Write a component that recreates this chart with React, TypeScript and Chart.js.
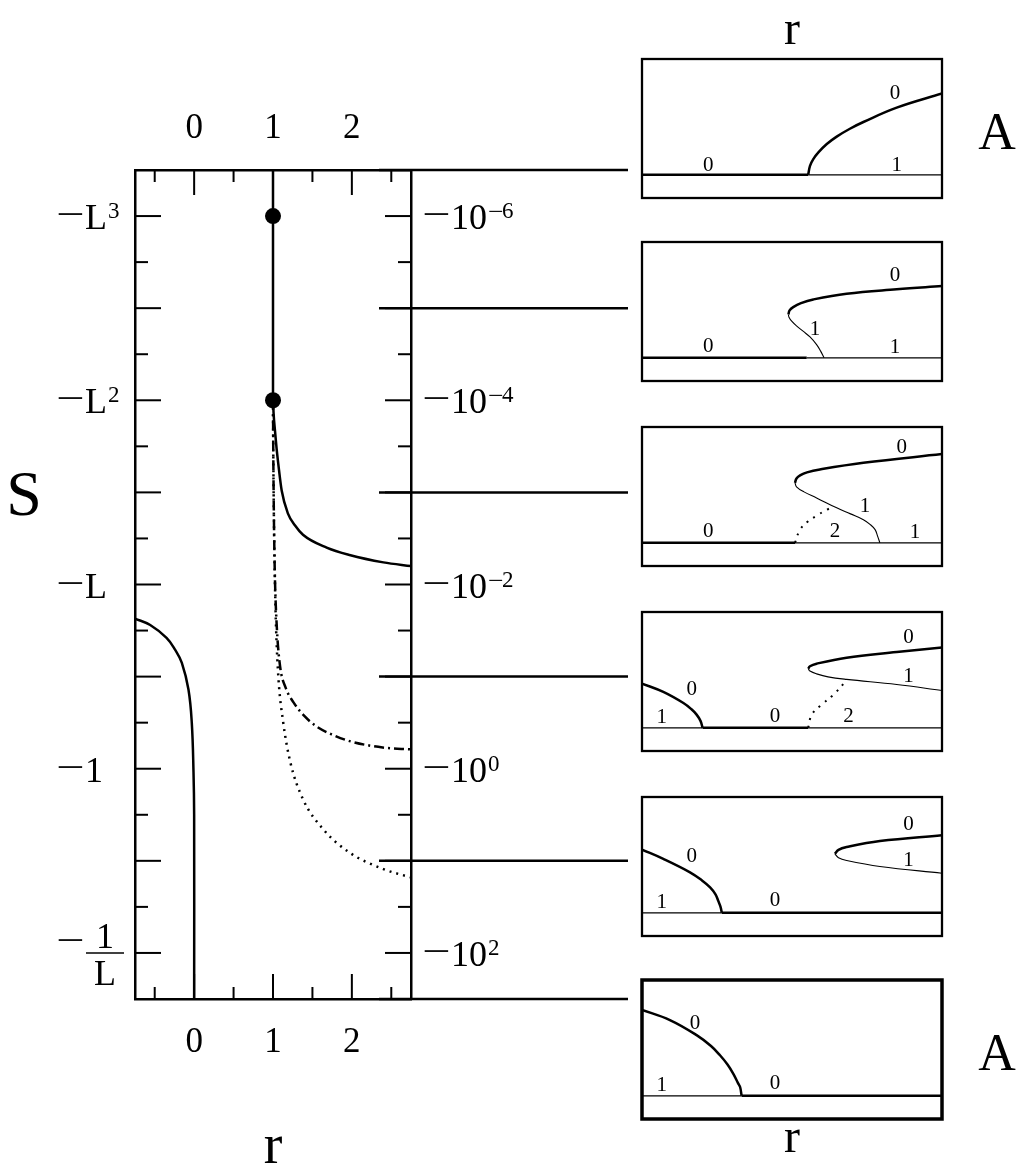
import { useEffect, useRef } from 'react';
import { Chart, registerables } from 'chart.js';

Chart.register(...registerables);

type Pt = [number, number];

const FONT = "'Liberation Serif', 'DejaVu Serif', serif";

// ---------------- main diagram data (r horizontally, log10|S| vertically) ----------------
const rTickValues = [0, 1, 2];
const rTickLabels = ['0', '1', '2'];
const sTickValues = [-6, -4, -2, 0, 2];
const sTickLabels = ['−L³', '−L²', '−L', '−1', '−1/L'];
const logTickLabels = ['−10⁻⁶', '−10⁻⁴', '−10⁻²', '−10⁰', '−10²'];
const rRange: Pt = [-0.75, 2.75];
const sRange: Pt = [-6.5, 2.5];
const tickStep = 0.5;
const connectorLevels = [-6.5, -5, -3, -1, 1, 2.5];

const criticalLine: Pt[] = [[1, -6.5], [1, -4]];
const criticalPoints: Pt[] = [[1, -6], [1, -4]];
const solidBranch: Pt[] = [
  [1, -4], [1.008, -3.85], [1.025, -3.67], [1.045, -3.48], [1.067, -3.31], [1.11, -3.02],
  [1.19, -2.77], [1.28, -2.64], [1.38, -2.54], [1.68, -2.4], [1.97, -2.32], [2.4, -2.24], [2.75, -2.2],
];
const dashDotBranch: Pt[] = [
  [1, -4], [1.003, -3.5], [1.008, -3], [1.015, -2.5], [1.025, -2.05], [1.05, -1.51], [1.09, -1.11],
  [1.16, -0.88], [1.26, -0.72], [1.4, -0.57], [1.55, -0.46], [1.75, -0.37], [1.97, -0.3], [2.39, -0.23], [2.75, -0.21],
];
const dottedBranch: Pt[] = [
  [1, -4], [1.003, -3.5], [1.008, -3], [1.015, -2.5], [1.025, -2.0], [1.04, -1.5], [1.07, -0.97],
  [1.13, -0.5], [1.22, -0.07], [1.38, 0.33], [1.64, 0.66], [1.97, 0.91], [2.4, 1.09], [2.75, 1.18],
];
const leftBranch: Pt[] = [
  [-0.75, -1.63], [-0.557, -1.56], [-0.35, -1.42], [-0.24, -1.29], [-0.156, -1.15], [-0.072, -0.86],
  [-0.03, -0.5], [-0.008, 0.04], [0, 0.5], [0, 2.5],
];

// ---------------- bifurcation panels (r horizontally, A vertically) ----------------
const panelR: Pt = [0, 10];
const panelA: Pt = [-1, 5];

const p1Thick: Pt[][] = [
  [[0, 0], [5.54, 0]],
  [[5.54, 0], [5.6, 0.39], [5.71, 0.68], [5.88, 0.97], [6.16, 1.33], [6.49, 1.65], [6.93, 1.99], [7.38, 2.28], [8.49, 2.9], [10, 3.51]],
];
const p1Thin: Pt[][] = [[[5.54, 0], [10, 0]]];
const p1Dotted: Pt[][] = [];
const p1Labels = ['0', '1', '0'];
const p1LabelAt: Pt[] = [[2.21, 0.47], [8.49, 0.47], [8.43, 3.58]];

const p2Thick: Pt[][] = [
  [[0, 0], [5.49, 0]],
  [[4.88, 1.87], [4.92, 2.05], [5.04, 2.19], [5.3, 2.36], [5.71, 2.52], [6.82, 2.77], [8.49, 2.96], [10, 3.1]],
];
const p2Thin: Pt[][] = [
  [[5.49, 0], [10, 0]],
  [[6.07, 0], [5.95, 0.3], [5.82, 0.57], [5.6, 0.9], [5.38, 1.14], [5.15, 1.38], [4.99, 1.58], [4.9, 1.75], [4.88, 1.87]],
];
const p2Dotted: Pt[][] = [];
const p2Labels = ['0', '1', '1', '0'];
const p2LabelAt: Pt[] = [[2.21, 0.57], [8.43, 0.5], [5.77, 1.29], [8.43, 3.61]];

const p3Thick: Pt[][] = [
  [[0, 0], [5.1, 0]],
  [[5.1, 2.59], [5.15, 2.78], [5.27, 2.91], [5.5, 3.04], [5.93, 3.17], [7.38, 3.46], [10, 3.83]],
];
const p3Thin: Pt[][] = [
  [[5.1, 0], [10, 0]],
  [[7.93, 0], [7.85, 0.3], [7.77, 0.57], [7.6, 0.8], [7.38, 1.0], [6.95, 1.25], [6.49, 1.51], [5.82, 1.94], [5.4, 2.2], [5.15, 2.42], [5.1, 2.59]],
];
const p3Dotted: Pt[][] = [[[5.1, 0], [5.27, 0.57], [5.54, 0.93], [5.82, 1.17], [6.16, 1.43], [6.4, 1.55]]];
const p3Labels = ['0', '2', '1', '1', '0'];
const p3LabelAt: Pt[] = [[2.21, 0.57], [6.43, 0.57], [9.1, 0.5], [7.43, 1.65], [8.66, 4.19]];

const p4Thick: Pt[][] = [
  [[0, 1.91], [0.71, 1.55], [1.38, 1.07], [1.65, 0.8], [1.82, 0.57], [1.95, 0.3], [2.02, 0]],
  [[2.02, 0], [5.54, 0]],
  [[5.54, 2.55], [5.6, 2.66], [5.82, 2.77], [6.82, 3.03], [8.49, 3.27], [10, 3.47]],
];
const p4Thin: Pt[][] = [
  [[0, 0], [2.02, 0]],
  [[5.54, 0], [10, 0]],
  [[10, 1.61], [8.49, 1.87], [6.82, 2.09], [6.2, 2.2], [5.82, 2.33], [5.6, 2.45], [5.54, 2.55]],
];
const p4Dotted: Pt[][] = [[[5.54, 0], [5.66, 0.57], [5.99, 1.0], [6.38, 1.43], [6.8, 2.02]]];
const p4Labels = ['1', '0', '0', '2', '1', '0'];
const p4LabelAt: Pt[] = [[0.66, 0.49], [1.66, 1.73], [4.43, 0.57], [6.88, 0.57], [8.88, 2.3], [8.88, 3.97]];

const p5Thick: Pt[][] = [
  [[0, 2.73], [0.71, 2.33], [1.6, 1.75], [2.0, 1.4], [2.27, 1.1], [2.45, 0.8], [2.54, 0.52], [2.62, 0.25], [2.66, 0]],
  [[2.66, 0], [10, 0]],
  [[6.43, 2.55], [6.55, 2.72], [6.82, 2.84], [7.93, 3.1], [10, 3.35]],
];
const p5Thin: Pt[][] = [
  [[0, 0], [2.66, 0]],
  [[6.43, 2.55], [6.55, 2.38], [6.82, 2.26], [7.93, 2.0], [10, 1.71]],
];
const p5Dotted: Pt[][] = [];
const p5Labels = ['1', '0', '0', '1', '0'];
const p5LabelAt: Pt[] = [[0.66, 0.52], [1.66, 2.48], [4.43, 0.6], [8.88, 2.33], [8.88, 3.86]];

const p6Thick: Pt[][] = [
  [[0, 3.71], [0.93, 3.27], [1.82, 2.62], [2.3, 2.15], [2.6, 1.75], [2.85, 1.35], [3.04, 0.96], [3.2, 0.55], [3.27, 0.38], [3.32, 0]],
  [[3.32, 0], [10, 0]],
];
const p6Thin: Pt[][] = [[[0, 0], [3.32, 0]]];
const p6Dotted: Pt[][] = [];
const p6Labels = ['1', '0', '0'];
const p6LabelAt: Pt[] = [[0.66, 0.52], [1.77, 3.2], [4.43, 0.6]];

const axisTitleR = 'r';
const axisTitleS = 'S';
const axisTitleA = 'A';

const panels = [
  { thick: p1Thick, thin: p1Thin, dotted: p1Dotted, labels: p1Labels, labelAt: p1LabelAt },
  { thick: p2Thick, thin: p2Thin, dotted: p2Dotted, labels: p2Labels, labelAt: p2LabelAt },
  { thick: p3Thick, thin: p3Thin, dotted: p3Dotted, labels: p3Labels, labelAt: p3LabelAt },
  { thick: p4Thick, thin: p4Thin, dotted: p4Dotted, labels: p4Labels, labelAt: p4LabelAt },
  { thick: p5Thick, thin: p5Thin, dotted: p5Dotted, labels: p5Labels, labelAt: p5LabelAt },
  { thick: p6Thick, thin: p6Thin, dotted: p6Dotted, labels: p6Labels, labelAt: p6LabelAt },
];

// ---------------- layout ----------------
const W = 1019;
const H = 1172;
const MAIN_W = 640;
const PLOT = { left: 135, right: 411, top: 170, bottom: 999 };
const PANEL_LEFT = 642;
const PANEL_W = 300;
const PANEL_H = 139;
const PANEL_CANVAS_LEFT = 638;
const panelTops = [59, 242, 427, 612, 797, 980];
const CONNECTOR_END = 628;

const toXY = (pts: Pt[]) => pts.map(([x, y]) => ({ x, y }));

const SUP: Record<string, string> = {
  '⁰': '0', '¹': '1', '²': '2', '³': '3', '⁴': '4', '⁵': '5', '⁶': '6', '⁷': '7', '⁸': '8', '⁹': '9', '⁻': '−',
};

function drawMinus(ctx: CanvasRenderingContext2D, x: number, y: number, size: number, stretch: number) {
  ctx.save();
  ctx.font = `${size}px ${FONT}`;
  ctx.textAlign = 'left';
  ctx.textBaseline = 'alphabetic';
  ctx.translate(x, y);
  ctx.scale(stretch, 1);
  ctx.fillText('−', 0, 0);
  ctx.restore();
}

function drawTickLabel(ctx: CanvasRenderingContext2D, text: string, x: number, yMid: number) {
  const base = 36;
  const sup = 23;
  ctx.textAlign = 'left';
  ctx.textBaseline = 'alphabetic';
  let cx = x;
  let rest = text;
  const frac = text.includes('/');
  if (rest.startsWith('−')) {
    drawMinus(ctx, cx - 1, frac ? yMid - 1 : yMid + 10, base, 1.4);
    cx += 28;
    rest = rest.slice(1);
  }
  if (frac) {
    const [num, den] = rest.split('/');
    const x0 = cx + 1;
    const x1 = cx + 39;
    ctx.lineWidth = 1.6;
    ctx.beginPath();
    ctx.moveTo(x0, yMid);
    ctx.lineTo(x1, yMid);
    ctx.stroke();
    ctx.font = `${base}px ${FONT}`;
    ctx.textAlign = 'center';
    ctx.fillText(num, (x0 + x1) / 2, yMid - 5);
    ctx.fillText(den, (x0 + x1) / 2, yMid + 32);
    return;
  }
  let i = 0;
  while (i < rest.length) {
    const isSup = rest[i] in SUP;
    let run = '';
    while (i < rest.length && (rest[i] in SUP) === isSup) {
      run += isSup ? SUP[rest[i]] : rest[i];
      i++;
    }
    if (isSup && run.startsWith('−')) {
      drawMinus(ctx, cx, yMid + 3, sup, 1.2);
      cx += 14;
      run = run.slice(1);
    }
    ctx.font = `${isSup ? sup : base}px ${FONT}`;
    ctx.fillText(run, cx, isSup ? yMid + 2 : yMid + 13);
    cx += ctx.measureText(run).width + 1;
  }
}

const onStep = (v: number) => Math.abs(v / tickStep - Math.round(v / tickStep)) < 1e-6;
const isInt = (v: number) => Math.abs(v - Math.round(v)) < 1e-6;

const stepTicks = (s: any) => {
  const out: { value: number }[] = [];
  for (let k = Math.ceil(s.min / tickStep - 1e-9); k * tickStep <= s.max + 1e-9; k++) {
    out.push({ value: Math.round(k * tickStep * 1e6) / 1e6 });
  }
  s.ticks = out;
};

const mainDecor = {
  id: 'mainDecor',
  afterDraw(chart: any) {
    const { ctx, chartArea: ca } = chart;
    const xs = chart.scales.x;
    const ys = chart.scales.y;
    ctx.save();
    ctx.strokeStyle = '#000';
    ctx.fillStyle = '#000';
    ctx.lineCap = 'butt';
    const seg = (x1: number, y1: number, x2: number, y2: number) => {
      ctx.beginPath();
      ctx.moveTo(x1, y1);
      ctx.lineTo(x2, y2);
      ctx.stroke();
    };
    ctx.lineWidth = 2;
    xs.ticks.forEach((t: any) => {
      const v = t.value;
      if (!onStep(v) || v <= xs.min + 1e-6 || v >= xs.max - 1e-6) return;
      const p = xs.getPixelForValue(v);
      const len = isInt(v) ? 25 : 12;
      seg(p, ca.bottom, p, ca.bottom - len);
      seg(p, ca.top, p, ca.top + len);
    });
    ys.ticks.forEach((t: any) => {
      const v = t.value;
      if (!onStep(v) || v <= ys.min + 1e-6 || v >= ys.max - 1e-6) return;
      const p = ys.getPixelForValue(v);
      const len = isInt(v) ? 26 : 13;
      seg(ca.left, p, ca.left + len, p);
      seg(ca.right, p, ca.right - len, p);
    });
    ctx.lineWidth = 2.5;
    connectorLevels.forEach((lv) => {
      const p = ys.getPixelForValue(lv);
      seg(ca.right - 32, p, CONNECTOR_END, p);
    });
    sTickValues.forEach((v, i) => {
      const p = ys.getPixelForValue(v);
      drawTickLabel(ctx, sTickLabels[i], ca.left - 78, p);
      drawTickLabel(ctx, logTickLabels[i], ca.right + 12, p);
    });
    ctx.textAlign = 'center';
    ctx.textBaseline = 'alphabetic';
    ctx.font = `64px ${FONT}`;
    ctx.fillText(axisTitleS, 24, 515);
    ctx.font = `56px ${FONT}`;
    ctx.fillText(axisTitleR, xs.getPixelForValue(1), 1163);
    ctx.restore();
  },
};

const rTickCallback = (v: any) => {
  const i = rTickValues.indexOf(Number(v));
  return i >= 0 ? rTickLabels[i] : '';
};

const borderOpts = { display: true, width: 2.5, color: '#000' };

function mainConfig(): any {
  const line = (pts: Pt[], extra: any) => ({
    type: 'line',
    data: toXY(pts),
    borderColor: '#000',
    backgroundColor: '#000',
    borderWidth: 2.5,
    pointRadius: 0,
    fill: false,
    ...extra,
  });
  const xTicks = (padding: number) => ({
    autoSkip: false, maxRotation: 0, padding, color: '#000', font: { family: FONT, size: 35 }, callback: rTickCallback,
  });
  return {
    type: 'line',
    data: {
      datasets: [
        line(criticalLine, { tension: 0 }),
        line(solidBranch, { cubicInterpolationMode: 'monotone' }),
        line(dashDotBranch, { cubicInterpolationMode: 'monotone', borderDash: [10, 4, 2, 4] }),
        line(dottedBranch, { cubicInterpolationMode: 'monotone', borderDash: [2, 5] }),
        line(leftBranch, { tension: 0.4 }),
        {
          type: 'line',
          data: toXY(criticalPoints),
          showLine: false,
          pointRadius: 8,
          pointBackgroundColor: '#000',
          pointBorderColor: '#000',
          pointBorderWidth: 0,
        },
      ],
    },
    options: {
      animation: false,
      responsive: false,
      devicePixelRatio: 1,
      events: [],
      layout: { padding: 0 },
      plugins: { legend: { display: false }, tooltip: { enabled: false }, title: { display: false } },
      scales: {
        x: {
          type: 'linear', position: 'bottom', min: rRange[0], max: rRange[1],
          grid: { display: false }, border: borderOpts,
          ticks: xTicks(15),
          afterBuildTicks: stepTicks,
          afterFit: (s: any) => { s.height = H - PLOT.bottom; },
        },
        x2: {
          type: 'linear', position: 'top', min: rRange[0], max: rRange[1],
          grid: { display: false }, border: borderOpts,
          ticks: xTicks(12),
          afterBuildTicks: stepTicks,
          afterFit: (s: any) => { s.height = PLOT.top; },
        },
        y: {
          type: 'linear', position: 'left', min: sRange[0], max: sRange[1], reverse: true,
          grid: { display: false }, border: borderOpts,
          ticks: { display: false },
          afterBuildTicks: stepTicks,
          afterFit: (s: any) => { s.width = PLOT.left; },
        },
        y2: {
          type: 'linear', position: 'right', min: sRange[0], max: sRange[1], reverse: true,
          grid: { display: false }, border: borderOpts,
          ticks: { display: false },
          afterBuildTicks: stepTicks,
          afterFit: (s: any) => { s.width = MAIN_W - PLOT.right; },
        },
      },
    },
    plugins: [mainDecor],
  };
}

function panelGeom(i: number) {
  const top = panelTops[i];
  const first = i === 0;
  const last = i === panelTops.length - 1;
  const canvasTop = first ? 0 : top - 4;
  const canvasBottom = last ? H : top + PANEL_H + 4;
  const canvasW = W - PANEL_CANVAS_LEFT;
  return {
    first, last, canvasTop, canvasW, canvasH: canvasBottom - canvasTop,
    padding: {
      left: PANEL_LEFT - PANEL_CANVAS_LEFT,
      right: canvasW - (PANEL_LEFT - PANEL_CANVAS_LEFT) - PANEL_W,
      top: top - canvasTop,
      bottom: canvasBottom - (top + PANEL_H),
    },
  };
}

function panelConfig(i: number): any {
  const p = panels[i];
  const g = panelGeom(i);
  const datasets: any[] = [];
  const mk = (pts: Pt[], extra: any) => ({
    data: toXY(pts), borderColor: '#000', pointRadius: 0, fill: false, tension: 0.4, ...extra,
  });
  p.thin.forEach((pts) => datasets.push(mk(pts, { borderWidth: 1.1 })));
  p.dotted.forEach((pts) => datasets.push(mk(pts, { borderWidth: 2, borderDash: [2, 6] })));
  p.thick.forEach((pts) => datasets.push(mk(pts, { borderWidth: 2.5 })));
  const frameWidth = g.last ? 3.5 : 2.3;
  const decor = {
    id: 'panelDecor',
    afterDraw(chart: any) {
      const { ctx, chartArea: ca } = chart;
      const xs = chart.scales.x;
      const ys = chart.scales.y;
      ctx.save();
      ctx.strokeStyle = '#000';
      ctx.fillStyle = '#000';
      ctx.lineWidth = frameWidth;
      ctx.strokeRect(ca.left, ca.top, ca.right - ca.left, ca.bottom - ca.top);
      ctx.font = `21px ${FONT}`;
      ctx.textAlign = 'center';
      ctx.textBaseline = 'alphabetic';
      p.labels.forEach((t, k) => {
        const [lx, ly] = p.labelAt[k];
        ctx.fillText(t, xs.getPixelForValue(lx), ys.getPixelForValue(ly) + 7);
      });
      const cx = (ca.left + ca.right) / 2;
      const cy = (ca.top + ca.bottom) / 2;
      if (g.first || g.last) {
        ctx.font = `52px ${FONT}`;
        ctx.fillText(axisTitleA, ca.right + 55, cy + 20);
        ctx.font = `48px ${FONT}`;
        if (g.first) ctx.fillText(axisTitleR, cx, ca.top - 15);
        if (g.last) ctx.fillText(axisTitleR, cx, ca.bottom + 33);
      }
      ctx.restore();
    },
  };
  return {
    type: 'line',
    data: { datasets },
    options: {
      animation: false,
      responsive: false,
      devicePixelRatio: 1,
      events: [],
      layout: { padding: g.padding },
      plugins: { legend: { display: false }, tooltip: { enabled: false } },
      scales: {
        x: { type: 'linear', min: panelR[0], max: panelR[1], display: false },
        y: { type: 'linear', min: panelA[0], max: panelA[1], display: false },
      },
    },
    plugins: [decor],
  };
}

export default function App() {
  const mainRef = useRef<HTMLCanvasElement | null>(null);
  const panelRefs = useRef<(HTMLCanvasElement | null)[]>([]);

  useEffect(() => {
    const charts: Chart[] = [];
    if (mainRef.current) charts.push(new Chart(mainRef.current, mainConfig()));
    panels.forEach((_, i) => {
      const c = panelRefs.current[i];
      if (c) charts.push(new Chart(c, panelConfig(i)));
    });
    return () => charts.forEach((c) => c.destroy());
  }, []);

  return (
    <div style={{ position: 'absolute', left: 0, top: 0, width: W, height: H, background: '#fff', overflow: 'hidden' }}>
      <canvas ref={mainRef} width={MAIN_W} height={H} style={{ position: 'absolute', left: 0, top: 0 }} />
      {panels.map((_, i) => {
        const g = panelGeom(i);
        return (
          <canvas
            key={i}
            ref={(el) => { panelRefs.current[i] = el; }}
            width={g.canvasW}
            height={g.canvasH}
            style={{ position: 'absolute', left: PANEL_CANVAS_LEFT, top: g.canvasTop }}
          />
        );
      })}
    </div>
  );
}
